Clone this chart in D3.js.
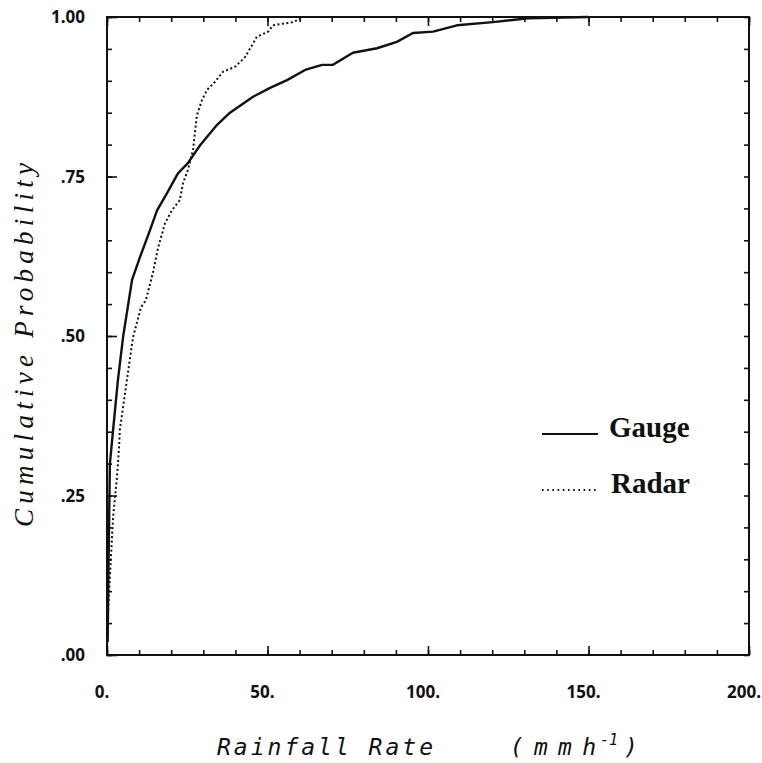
<html>
<head>
  <meta charset="UTF-8">
  <title>Cumulative probability of rainfall rate</title>
  <script src="https://d3js.org/d3.v7.min.js"></script>
</head>
<style>
body { margin: 0; background: #fff; }
.tick-label { font-family: "Open Sans", sans-serif; font-weight: 700; font-size: 17px; fill: #111; }
.legend-label { font-family: "Liberation Serif", serif; font-weight: 700; font-size: 29px; fill: #111; }
.axis-title { font-style: italic; fill: #111; }
</style>
<body>
<script>

// rainfall rate (mm/h) and cumulative probability
var gaugeRate = [0.2, 0.5, 0.9, 1.9, 3.4, 5.0, 7.8, 10.3, 13.4, 15.6, 18.7, 22.1, 25.2, 29.0,
  34.3, 38.3, 45.5, 50.8, 56.1, 61.7, 67.0, 70.4, 76.6, 84.1, 90.3, 95.3, 101.6, 109.0,
  120.2, 131.2, 150.0];
var gaugeProb = [0.02, 0.15, 0.30, 0.353, 0.431, 0.498, 0.588, 0.624, 0.666, 0.697, 0.724, 0.755,
  0.771, 0.799, 0.831, 0.850, 0.875, 0.889, 0.901, 0.917, 0.925, 0.925, 0.944, 0.951,
  0.961, 0.975, 0.977, 0.987, 0.992, 0.998, 1.0];

var radarRate = [0, 0, 1.9, 3.1, 3.7, 4.0, 6.2, 8.1, 10.6, 12.1, 14.3, 15.9, 18.1, 20.2, 22.7,
  23.7, 25.2, 26.8, 28.0, 29.6, 31.2, 33.6, 36.1, 39.9, 43.0, 46.7, 50.2, 51.7, 57.9,
  60.1, 61.1];
var radarProb = [0, 0.039, 0.216, 0.279, 0.321, 0.353, 0.431, 0.498, 0.545, 0.556, 0.599, 0.638,
  0.677, 0.697, 0.713, 0.740, 0.760, 0.792, 0.846, 0.870, 0.886, 0.898, 0.914, 0.922,
  0.937, 0.969, 0.977, 0.987, 0.992, 0.997, 1.0];

var xTickValues = [0, 50, 100, 150, 200];
var xTickLabels = ["0.", "50.", "100.", "150.", "200."];
var yTickValues = [0, 0.25, 0.5, 0.75, 1];
var yTickLabels = [".00", ".25", ".50", ".75", "1.00"];
var seriesNames = ["Gauge", "Radar"];

var width = 762,
    height = 763;

var svg = d3.select('body')
  .append('svg')
  .attr('width', width)
  .attr('height', height);

var x = d3.scaleLinear().domain([0, 200]).range([107, 749]);
var y = d3.scaleLinear().domain([0, 1]).range([655, 17]);

var xMinor = d3.range(0, 201, 10);
var yMinor = d3.range(0, 1.0001, 0.05);

function styleAxis(g) {
  g.select('.domain').remove();
  g.selectAll('.tick line').attr('stroke', '#111').attr('stroke-width', 1.6);
  g.selectAll('.tick text').remove();
}

// ticks point inward on all four sides
svg.append('g').attr('transform', 'translate(0,655)')
  .call(d3.axisBottom(x).tickValues(xMinor).tickSize(-5)).call(styleAxis);
svg.append('g').attr('transform', 'translate(0,655)')
  .call(d3.axisBottom(x).tickValues(xTickValues).tickSize(-9)).call(styleAxis);
svg.append('g').attr('transform', 'translate(0,17)')
  .call(d3.axisTop(x).tickValues(xMinor).tickSize(-5)).call(styleAxis);
svg.append('g').attr('transform', 'translate(0,17)')
  .call(d3.axisTop(x).tickValues(xTickValues).tickSize(-9)).call(styleAxis);
svg.append('g').attr('transform', 'translate(107,0)')
  .call(d3.axisLeft(y).tickValues(yMinor).tickSize(-5)).call(styleAxis);
svg.append('g').attr('transform', 'translate(107,0)')
  .call(d3.axisLeft(y).tickValues(yTickValues).tickSize(-10)).call(styleAxis);
svg.append('g').attr('transform', 'translate(749,0)')
  .call(d3.axisRight(y).tickValues(yMinor).tickSize(-5)).call(styleAxis);

// frame
svg.append('rect')
  .attr('x', 107).attr('y', 17)
  .attr('width', 642).attr('height', 638)
  .attr('fill', 'none')
  .attr('stroke', '#111')
  .attr('stroke-width', 2);

// tick labels
svg.selectAll('.xlab')
  .data(xTickValues)
  .enter()
  .append('text')
  .attr('class', 'tick-label')
  .attr('x', function(d){ return x(d) - 5; })
  .attr('y', 698)
  .attr('text-anchor', 'middle')
  .text(function(d, i){ return xTickLabels[i]; });

svg.selectAll('.ylab')
  .data(yTickValues)
  .enter()
  .append('text')
  .attr('class', 'tick-label')
  .attr('x', 85)
  .attr('y', function(d){ return y(d) + 6; })
  .attr('text-anchor', 'end')
  .text(function(d, i){ return yTickLabels[i]; });

// curves
var line = d3.line()
  .x(function(d){ return x(d[0]); })
  .y(function(d){ return y(d[1]); });

svg.append('path')
  .datum(d3.zip(gaugeRate, gaugeProb))
  .attr('d', line)
  .attr('fill', 'none')
  .attr('stroke', '#111')
  .attr('stroke-width', 2.4)
  .attr('stroke-linejoin', 'round');

svg.append('path')
  .datum(d3.zip(radarRate, radarProb))
  .attr('d', line)
  .attr('fill', 'none')
  .attr('stroke', '#111')
  .attr('stroke-width', 2)
  .attr('stroke-dasharray', '2,2.5');

// legend
var legend = svg.append('g');
legend.append('line')
  .attr('x1', 542).attr('x2', 598).attr('y1', 434).attr('y2', 434)
  .attr('stroke', '#111').attr('stroke-width', 2);
legend.append('text')
  .attr('class', 'legend-label')
  .attr('x', 609).attr('y', 437)
  .text(seriesNames[0]);
legend.append('line')
  .attr('x1', 542).attr('x2', 596).attr('y1', 490).attr('y2', 490)
  .attr('stroke', '#111').attr('stroke-width', 2)
  .attr('stroke-dasharray', '1.6,3.6');
legend.append('text')
  .attr('class', 'legend-label')
  .attr('x', 611).attr('y', 493)
  .text(seriesNames[1]);

// axis titles
var xt = svg.append('text')
  .attr('class', 'axis-title')
  .attr('y', 755)
  .style('font-family', '"DejaVu Sans Mono", monospace')
  .style('font-size', '23px');
xt.append('tspan').attr('x', 217).attr('textLength', 216).attr('lengthAdjust', 'spacing')
  .text('Rainfall Rate');
xt.append('tspan').attr('x', 510).attr('textLength', 86).attr('lengthAdjust', 'spacing')
  .text('(mmh');
xt.append('tspan').attr('x', 600).attr('dy', -10).style('font-size', '15px').text('-1');
xt.append('tspan').attr('x', 624).attr('dy', 10).text(')');

svg.append('text')
  .attr('class', 'axis-title')
  .attr('transform', 'translate(33,345) rotate(-90)')
  .attr('text-anchor', 'middle')
  .attr('textLength', 364)
  .attr('lengthAdjust', 'spacing')
  .style('font-family', '"Liberation Serif", serif')
  .style('font-size', '27px')
  .text('Cumulative Probability');

</script>
</body>
</html>
